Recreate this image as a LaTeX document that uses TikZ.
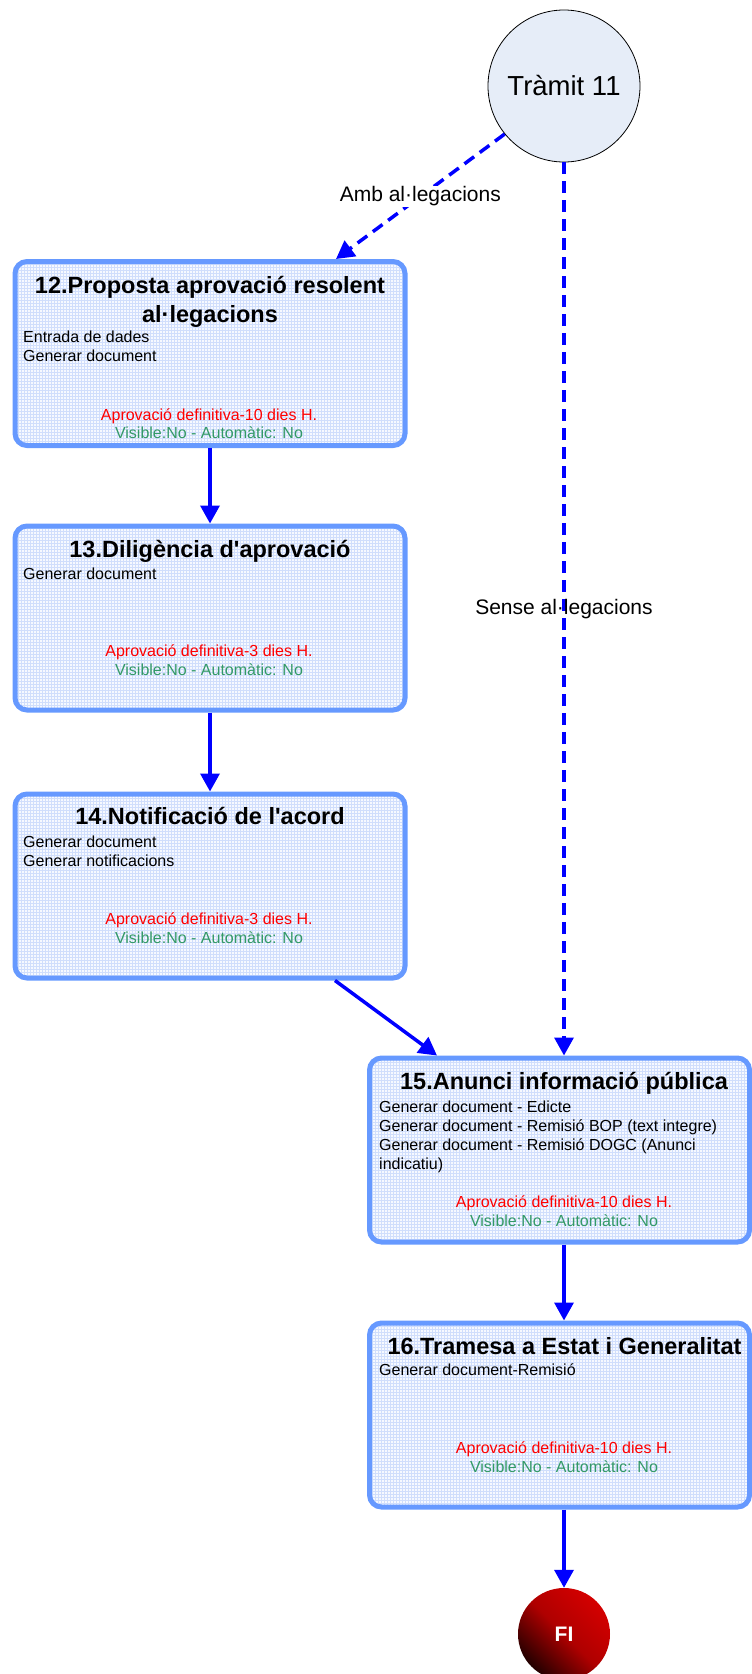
\documentclass[tikz,border=0pt]{standalone}
\usepackage{fontspec}
\setmainfont{Liberation Sans}[Ligatures=TeXOff]
\usetikzlibrary{arrows.meta,patterns,calc,shadings}
\definecolor{bordc}{RGB}{102,153,255}
\definecolor{bgc}{RGB}{246,249,255}
\definecolor{gridc}{RGB}{208,222,252}
\definecolor{arrc}{RGB}{0,0,255}
\definecolor{redt}{RGB}{255,0,0}
\definecolor{grnt}{RGB}{51,153,102}
\definecolor{circc}{RGB}{230,237,248}
\definecolor{fired}{RGB}{212,0,0}
\definecolor{fimid}{RGB}{175,0,0}
\definecolor{fidark}{RGB}{35,0,0}
\begin{document}
\begin{tikzpicture}[x=1pt,y=-1pt,
  taskbox/.style={draw=bordc,line width=5pt,rounded corners=12pt,pattern=grid,pattern color=gridc,preaction={fill=bgc},minimum width=390pt,minimum height=184pt,inner sep=0pt},
  ttl/.style={anchor=base,font=\fontsize{23.5}{28}\selectfont\bfseries,inner sep=0pt},
  bdy/.style={anchor=base west,font=\fontsize{16}{19}\selectfont,inner sep=0pt},
  redl/.style={anchor=base,font=\fontsize{16}{19}\selectfont,text=redt,inner sep=0pt},
  grnl/.style={anchor=base,font=\fontsize{16}{19}\selectfont,text=grnt,inner sep=0pt},
  flow/.style={draw=arrc,line width=3.5pt,-{Triangle[width=19pt,length=18pt]}},
  dflow/.style={flow,dash pattern=on 12pt off 7pt},
  lbl/.style={font=\fontsize{21}{25}\selectfont,inner sep=1pt}]
\useasboundingbox (0,0) rectangle (752,1674);

% boxes
\node[taskbox] (b12) at (210,353.5) {};
\node[taskbox] (b13) at (210,618) {};
\node[taskbox] (b14) at (210,886) {};
\node[taskbox,minimum width=380pt] (b15) at (559.5,1150) {};
\node[taskbox,minimum width=380pt] (b16) at (559.5,1415) {};

% start / end
\node[circle,draw=black,line width=0.8pt,fill=circc,minimum size=152pt,inner sep=0pt,font=\fontsize{27.5}{32}\selectfont] (tr) at (564,86) {Tràmit 11};
\node[circle,minimum size=92pt,inner sep=0pt,top color=fired,bottom color=fidark,middle color=fimid,shading angle=-45,text=white,font=\fontsize{21}{25}\selectfont\bfseries] (fi) at (564,1634) {FI};

% box 12 texts
\node[ttl] (t12a) at ($(b12.center)+(0,-60.5)$) {12.Proposta aprovació resolent};
\node[ttl] (t12b) at ($(b12.center)+(0,-31.5)$) {al·legacions};
\node[bdy] (t12c) at ($(b12.center)+(-187,-11.5)$) {Entrada de dades};
\node[bdy] (t12d) at ($(b12.center)+(-187,7.5)$) {Generar document};
\node[redl] (t12e) at ($(b12.center)+(-1,66.5)$) {Aprovació definitiva-10 dies H.};
\node[grnl] (t12f) at ($(b12.center)+(-1,84.5)$) {Visible:No - Automàtic: No};

% box 13 texts
\node[ttl] (t13a) at ($(b13.center)+(0,-61)$) {13.Diligència d'aprovació};
\node[bdy] (t13b) at ($(b13.center)+(-187,-39)$) {Generar document};
\node[redl] (t13c) at ($(b13.center)+(-1,38)$) {Aprovació definitiva-3 dies H.};
\node[grnl] (t13d) at ($(b13.center)+(-1,57)$) {Visible:No - Automàtic: No};

% box 14 texts
\node[ttl] (t14a) at ($(b14.center)+(0,-62)$) {14.Notificació de l'acord};
\node[bdy] (t14b) at ($(b14.center)+(-187,-39)$) {Generar document};
\node[bdy] (t14c) at ($(b14.center)+(-187,-20)$) {Generar notificacions};
\node[redl] (t14d) at ($(b14.center)+(-1,38)$) {Aprovació definitiva-3 dies H.};
\node[grnl] (t14e) at ($(b14.center)+(-1,57)$) {Visible:No - Automàtic: No};

% box 15 texts
\node[ttl] (t15a) at ($(b15.center)+(4.5,-61)$) {15.Anunci informació pública};
\node[bdy] (t15b) at ($(b15.center)+(-180.5,-38)$) {Generar document - Edicte};
\node[bdy] (t15c) at ($(b15.center)+(-180.5,-19)$) {Generar document - Remisió BOP (text integre)};
\node[bdy] (t15d) at ($(b15.center)+(-180.5,0)$) {Generar document - Remisió DOGC (Anunci};
\node[bdy] (t15e) at ($(b15.center)+(-180.5,19)$) {indicatiu)};
\node[redl] (t15f) at ($(b15.center)+(4.5,57.7)$) {Aprovació definitiva-10 dies H.};
\node[grnl] (t15g) at ($(b15.center)+(4.5,76.7)$) {Visible:No - Automàtic: No};

% box 16 texts
\node[ttl] (t16a) at ($(b16.center)+(5,-61)$) {16.Tramesa a Estat i Generalitat};
\node[bdy] (t16b) at ($(b16.center)+(-180.5,-40)$) {Generar document-Remisió};
\node[redl] (t16c) at ($(b16.center)+(4.5,38)$) {Aprovació definitiva-10 dies H.};
\node[grnl] (t16d) at ($(b16.center)+(4.5,57)$) {Visible:No - Automàtic: No};

% connectors
\draw[dflow] (tr.219) -- node[lbl,fill=white] (lamb) {Amb al·legacions} ($(b12.north)+(126,0)$);
\draw[dflow] (tr.south) -- node[lbl] (lsense) {Sense al·legacions} (b15.north -| tr.south);
\draw[flow] (b12.south) -- (b13.north);
\draw[flow] (b13.south) -- (b14.north);
\draw[flow] ($(b14.south)+(125,0)$) -- ($(b15.north)+(-122.5,0)$);
\draw[flow] ($(b15.south)+(4.5,0)$) -- ($(b16.north)+(4.5,0)$);
\draw[flow] ($(b16.south)+(4.5,0)$) -- (fi.north);
\end{tikzpicture}
\end{document}
